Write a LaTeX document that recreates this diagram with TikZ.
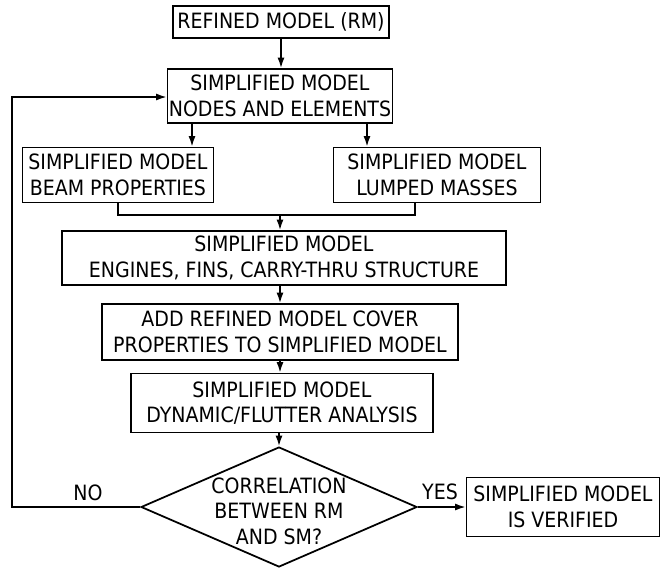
\documentclass[tikz,border=0pt]{standalone}
\usepackage{fontspec}
\setmainfont{DejaVu Sans Condensed}
\usepackage{tikz}
\usetikzlibrary{shapes.geometric,arrows.meta}
\tikzset{
  caixa/.style={draw,line width=1pt,align=center,inner sep=0pt,
                font=\fontsize{12}{14.5}\selectfont},
  losango/.style={draw,diamond,line width=1pt,inner sep=0pt},
  seta/.style={-{Latex[length=6pt,width=4pt]},line width=0.9pt},
  linha/.style={line width=0.9pt},
  rotulo/.style={align=center,font=\fontsize{12}{14.5}\selectfont}
}

\begin{document}
\begin{tikzpicture}[x=0.02cm,y=-0.02cm]
    \useasboundingbox (0,0) rectangle (661,568);
    % caixas do fluxograma
    \node[caixa,minimum width=4.32cm,minimum height=0.64cm] (rm) at (281,22)
      {REFINED MODEL (RM)};
    \node[caixa,minimum width=4.5cm,minimum height=1.08cm] (nodes) at (280,96)
      {SIMPLIFIED MODEL\\NODES AND ELEMENTS};
    \node[caixa,minimum width=3.82cm,minimum height=1.1cm] (beam) at (118,175)
      {SIMPLIFIED MODEL\\BEAM PROPERTIES};
    \node[caixa,minimum width=4.14cm,minimum height=1.1cm] (masses) at (437,175)
      {SIMPLIFIED MODEL\\LUMPED MASSES};
    \node[caixa,minimum width=8.88cm,minimum height=1.08cm] (engines) at (284,258)
      {SIMPLIFIED MODEL\\ENGINES, FINS, CARRY-THRU STRUCTURE};
    \node[caixa,minimum width=7.12cm,minimum height=1.12cm] (cover) at (280,332)
      {ADD REFINED MODEL COVER\\PROPERTIES TO SIMPLIFIED MODEL};
    \node[caixa,minimum width=6.04cm,minimum height=1.18cm] (flutter) at (282,403)
      {SIMPLIFIED MODEL\\DYNAMIC/FLUTTER ANALYSIS};
    % losango de decisao (texto em no separado)
    \node[losango,minimum width=5.52cm,minimum height=2.4cm] (corr) at (279,507) {};
    \node[rotulo] (corrtxt) at (279,511) {CORRELATION\\BETWEEN RM\\AND SM?};
    \node[caixa,minimum width=3.86cm,minimum height=1.18cm] (verified) at (563,507)
      {SIMPLIFIED MODEL\\IS VERIFIED};

    % ligacoes
    \draw[seta] (rm.south) -- (rm.south |- nodes.north);
    \draw[seta] (nodes.south -| 192,0) -- (beam.north -| 192,0);
    \draw[seta] (nodes.south -| 367,0) -- (masses.north -| 367,0);
    \coordinate (jl) at (118,215);
    \coordinate (jr) at (415,215);
    \coordinate (jm) at (280,215);
    \draw[linha] (beam.south) -- (jl) -- (jr) -- (jr |- masses.south);
    \draw[seta] (jm) -- (jm |- engines.north);
    \draw[seta] (engines.south -| jm) -- (cover.north -| jm);
    \draw[seta] (cover.south -| jm) -- (flutter.north -| jm);
    \draw[seta] (flutter.south -| corr.north) -- (corr.north);
    \draw[seta] (corr.east) -- (verified.west);
    \coordinate (volta) at (12,97);
    \draw[seta] (corr.west) -| (volta) -- (volta -| nodes.west);

    \node[rotulo] (no) at (88,493) {NO};
    \node[rotulo] (yes) at (440,492) {YES};
\end{tikzpicture}
\end{document}
